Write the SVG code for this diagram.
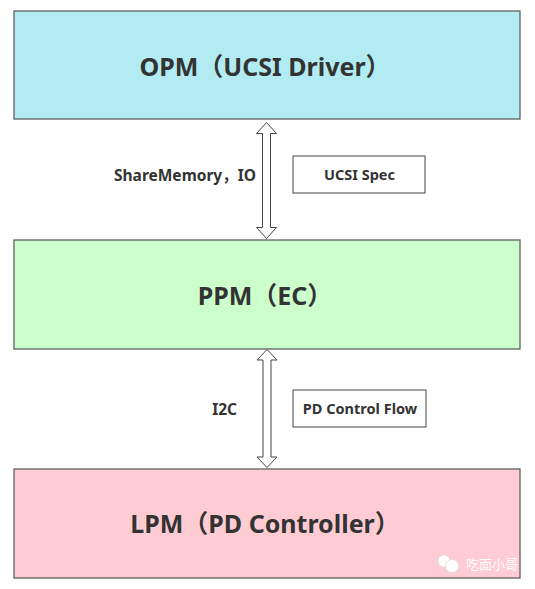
<svg xmlns="http://www.w3.org/2000/svg" width="535" height="589" viewBox="0 0 535 589">
<style>
.box{stroke:#606060;stroke-width:1.3}
.big{font-family:"Noto Sans","Noto Sans CJK SC",sans-serif;font-weight:bold;font-size:25px;fill:#333;text-anchor:middle}
.lbl{font-family:"Noto Sans","Noto Sans CJK SC",sans-serif;font-weight:bold;font-size:15.5px;fill:#333}
.nt{font-family:"Noto Sans","Noto Sans CJK SC",sans-serif;font-weight:bold;font-size:14.5px;fill:#333;text-anchor:middle}
.note{fill:#fff;stroke:#444;stroke-width:1}
.arr{fill:#fff;stroke:#444;stroke-width:1}
.wm{font-family:"Noto Sans CJK SC",sans-serif;font-size:13px;fill:#fff}
</style>
<rect width="535" height="589" fill="#fff"/>
<g id="opm">
<rect class="box" x="14" y="11" width="506" height="108" fill="#b2ebf2"/>
<text class="big" x="265" y="76">OPM（UCSI Driver）</text>
</g>
<g id="ppm">
<rect class="box" x="14" y="240" width="506" height="109" fill="#ccffcc"/>
<text class="big" x="265" y="305">PPM（EC）</text>
</g>
<g id="lpm">
<rect class="box" x="14" y="469" width="506" height="109" fill="#ffccd3"/>
<text class="big" x="265" y="533">LPM（PD Controller）</text>
</g>
<g id="ucsi-spec">
<rect class="note" x="293" y="156" width="132" height="37"/>
<text class="nt" x="359.5" y="180">UCSI Spec</text>
</g>
<g id="pd-control-flow">
<rect class="note" x="293" y="390" width="133" height="37"/>
<text class="nt" x="360" y="414">PD Control Flow</text>
</g>
<g id="connectors">
<polygon class="arr" points="266.5,122.5 276.5,133.5 270.5,133.5 270.5,227.5 276.5,227.5 266.5,238.5 256.5,227.5 262.5,227.5 262.5,133.5 256.5,133.5"/>
<text class="lbl" x="256" y="181" text-anchor="end">ShareMemory，IO</text>
<polygon class="arr" points="267,349.5 277,360 271,360 271,457 277,457 267,467.5 257,457 263,457 263,360 257,360"/>
<text class="lbl" x="237" y="415" text-anchor="end">I2C</text>
</g>
<g id="watermark">
<circle cx="444" cy="561" r="6" fill="#fff" stroke="#ddd" stroke-width="0.8"/>
<circle cx="452" cy="566" r="6.5" fill="#fff" stroke="#ddd" stroke-width="0.8"/>
<text class="wm" x="466" y="569">吃面小哥</text>
</g>
</svg>
